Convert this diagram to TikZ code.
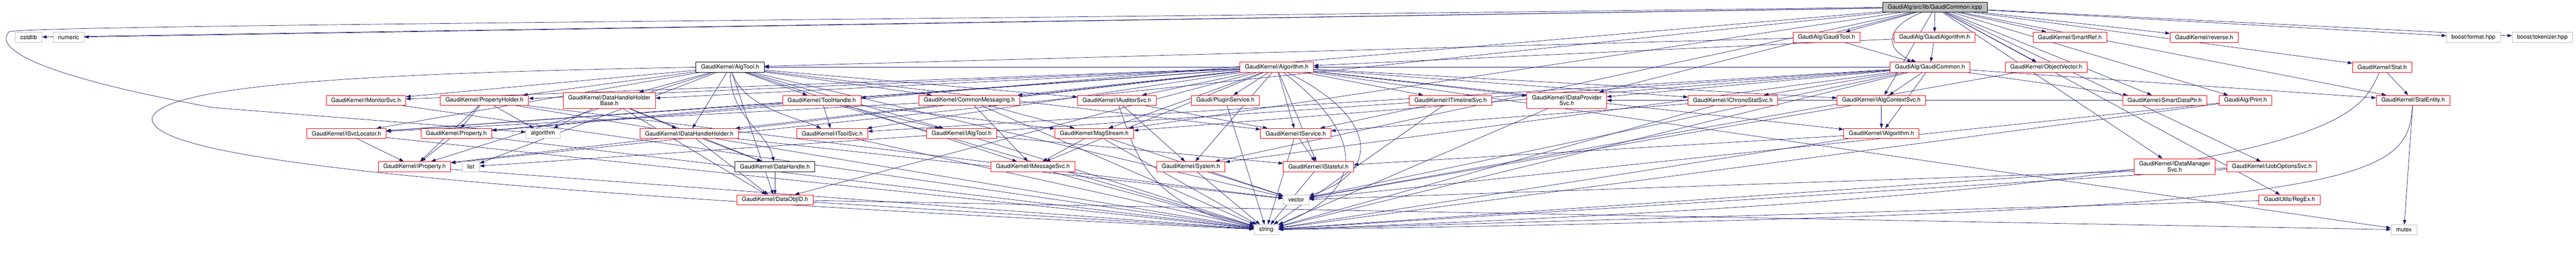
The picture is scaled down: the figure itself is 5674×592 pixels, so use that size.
\documentclass[tikz,border=0pt]{standalone}
\usepackage{fontspec}
\setmainfont{TeX Gyre Heros}
\usetikzlibrary{arrows.meta,backgrounds}
\definecolor{edgeblue}{HTML}{191970}
\definecolor{sysgrey}{HTML}{BFBFBF}
\tikzset{
  file/.style={draw=red, fill=white, line width=1pt, inner xsep=11pt, inner ysep=0pt,
    minimum height=22pt, align=center, font=\fontsize{12.9}{13}\selectfont},
  twoline/.style={file, minimum height=35pt},
  sysfile/.style={file, draw=sysgrey},
  docfile/.style={file, draw=black},
  rootfile/.style={file, draw=black, fill=sysgrey},
  dep/.style={draw=edgeblue, line width=0.8pt, -{Triangle[length=10pt,width=7pt]}}
}

\begin{document}
\begin{tikzpicture}[x=1pt, y=-1pt]
\useasboundingbox (0,0) rectangle (5674,592);

% top
\node[rootfile] (root) at (4262,16){GaudiAlg/src/lib/GaudiCommon.icpp};

% row 1
\node[sysfile] (cstdlib) at (63,82){cstdlib};
\node[sysfile] (numeric) at (151,82){numeric};
\node[file] (gtool) at (4023,82){GaudiAlg/GaudiTool.h};
\node[file] (galg) at (4261,82){GaudiAlg/GaudiAlgorithm.h};
\node[file] (smartref) at (4559,82){GaudiKernel/SmartRef.h};
\node[file] (reverse) at (4855,82){GaudiKernel/reverse.h};
\node[sysfile] (bformat) at (5448,82){boost/format.hpp};
\node[sysfile] (btok) at (5600,82){boost/tokenizer.hpp};

% row 2
\node[docfile] (algtool) at (1608,148){GaudiKernel/AlgTool.h};
\node[file] (alg) at (2812,148){GaudiKernel/Algorithm.h};
\node[file] (gcommon) at (4251,148){GaudiAlg/GaudiCommon.h};
\node[file] (objvec) at (4507,148){GaudiKernel/ObjectVector.h};
\node[file] (stat) at (5247,148){GaudiKernel/Stat.h};

% row 3
\node[file] (imon) at (806,221){GaudiKernel/IMonitorSvc.h};
\node[file] (propholder) at (1067,221){GaudiKernel/PropertyHolder.h};
\node[twoline] (dhhbase) at (1342,221){GaudiKernel/DataHandleHolder\\Base.h};
\node[file] (toolhandle) at (1810,221){GaudiKernel/ToolHandle.h};
\node[file] (commsg) at (2135,221){GaudiKernel/CommonMessaging.h};
\node[file] (iaud) at (2460,221){GaudiKernel/IAuditorSvc.h};
\node[file] (plugin) at (2699,221){Gaudi/PluginService.h};
\node[file] (itimeline) at (3195,221){GaudiKernel/ITimelineSvc.h};
\node[twoline] (idataprov) at (3451,221){GaudiKernel/IDataProvider\\Svc.h};
\node[file] (ichrono) at (3817,221){GaudiKernel/IChronoStatSvc.h};
\node[file] (ialgctx) at (4144,221){GaudiKernel/IAlgContextSvc.h};
\node[file] (smartptr) at (4768,221){GaudiKernel/SmartDataPtr.h};
\node[file] (print) at (4946,221){GaudiAlg/Print.h};
\node[file] (statent) at (5315,221){GaudiKernel/StatEntity.h};

% row 4
\node[file] (isvcloc) at (763,294){GaudiKernel/ISvcLocator.h};
\node[file] (property) at (1005,294){GaudiKernel/Property.h};
\node[sysfile] (stdalgo) at (1196,294){algorithm};
\node[file] (idhh) at (1518,294){GaudiKernel/IDataHandleHolder.h};
\node[file] (itoolsvc) at (1833,294){GaudiKernel/IToolSvc.h};
\node[file] (ialgtool) at (2118,294){GaudiKernel/IAlgTool.h};
\node[file] (msgstream) at (2410,294){GaudiKernel/MsgStream.h};
\node[file] (iservice) at (2854,294){GaudiKernel/IService.h};
\node[file] (ialgorithm) at (4144,294){GaudiKernel/IAlgorithm.h};

% row 5
\node[file] (iprop) at (913,367){GaudiKernel/IProperty.h};
\node[sysfile] (list) at (1037,367){list};
\node[docfile] (dhandle) at (1707,367){GaudiKernel/DataHandle.h};
\node[file] (imsgsvc) at (2275,367){GaudiKernel/IMessageSvc.h};
\node[file] (system) at (2623,367){GaudiKernel/System.h};
\node[file] (istateful) at (2904,367){GaudiKernel/IStateful.h};
\node[twoline] (idatamgr) at (4790,367){GaudiKernel/IDataManager\\Svc.h};
\node[file] (ijobopt) at (5004,367){GaudiKernel/IJobOptionsSvc.h};

% row 6
\node[file] (objid) at (1707,440){GaudiKernel/DataObjID.h};
\node[sysfile] (vector) at (2855,440){vector};
\node[file] (regex) at (5043,440){GaudiUtils/RegEx.h};

% row 7
\node[sysfile] (string) at (2789,506){string};
\node[sysfile] (mutex) at (5295,506){mutex};

\begin{scope}[on background layer]
% from the source file
\draw[dep] (root) -- (cstdlib);
\draw[dep] (root) -- (numeric);
\draw[dep] (root.west) .. controls (2000,45) and (60,55) .. (20,70)
  .. controls (0,90) and (-5,150) .. (470,237) -- (stdalgo);
\draw[dep] (root) -- (gtool);
\draw[dep] (root) -- (galg);
\draw[dep] (root) .. controls (4150,60) and (4150,110) .. (gcommon);
\draw[dep] (root) -- (smartref);
\draw[dep] (root) -- (objvec);
\draw[dep] (root) -- (reverse);
\draw[dep] (root) -- (bformat);
\draw[dep] (root) -- (btok);
\draw[dep] (root) -- (stat);
\draw[dep] (root) -- (statent);
\draw[dep] (root) -- (smartptr);
\draw[dep] (root) -- (print);
\draw[dep] (root) -- (idatamgr);
\draw[dep] (root) -- (ijobopt);
\draw[dep] (root) -- (regex);
\draw[dep] (root) -- (iprop);
\draw[dep] (root) -- (property);
\draw[dep] (root) -- (idataprov);
\draw[dep] (root) -- (ialgctx);
\draw[dep] (root) -- (system);
\draw[dep] (root) -- (msgstream);

% GaudiAlg headers
\draw[dep] (gtool) -- (gcommon);
\draw[dep] (gtool) -- (algtool);
\draw[dep] (galg) -- (gcommon);
\draw[dep] (galg) -- (alg);
\draw[dep] (gcommon) -- (algtool);
\draw[dep] (gcommon) -- (alg);
\draw[dep] (gcommon) -- (ialgctx);
\draw[dep] (gcommon) -- (ichrono);
\draw[dep] (gcommon) -- (idataprov);
\draw[dep] (gcommon) -- (itoolsvc);
\draw[dep] (gcommon) -- (ialgorithm);
\draw[dep] (gcommon) -- (smartptr);
\draw[dep] (gcommon) -- (statent);
\draw[dep] (gcommon) -- (msgstream);
\draw[dep] (gcommon) -- (system);
\draw[dep] (gcommon) -- (string);
\draw[dep] (gcommon) -- (vector);
\draw[dep] (gcommon) -- (list);
\draw[dep] (objvec) -- (vector);
\draw[dep] (print) -- (string);
\draw[dep] (print) -- (vector);

% Algorithm.h
\draw[dep] (alg) -- (ialgorithm);
\draw[dep] (alg) -- (imsgsvc);
\draw[dep] (alg) -- (iprop);
\draw[dep] (alg) -- (iservice);
\draw[dep] (alg) -- (istateful);
\draw[dep] (alg) -- (isvcloc);
\draw[dep] (alg) -- (propholder);
\draw[dep] (alg) -- (system);
\draw[dep] (alg) -- (toolhandle);
\draw[dep] (alg) -- (plugin);
\draw[dep] (alg) -- (commsg);
\draw[dep] (alg) -- (objid);
\draw[dep] (alg) -- (ialgctx);
\draw[dep] (alg) -- (iaud);
\draw[dep] (alg) -- (ichrono);
\draw[dep] (alg) -- (idataprov);
\draw[dep] (alg) -- (imon);
\draw[dep] (alg) -- (itimeline);
\draw[dep] (alg) -- (itoolsvc);
\draw[dep] (alg) -- (dhhbase);
\draw[dep] (alg) -- (idhh);
\draw[dep] (alg) -- (msgstream);
\draw[dep] (alg) .. controls (3010,300) and (3010,420) .. (string);
\draw[dep] (alg) .. controls (3040,260) and (3040,380) .. (vector);
\draw[dep] (alg) -- (mutex);

% AlgTool.h
\draw[dep] (algtool) -- (commsg);
\draw[dep] (algtool) -- (ialgtool);
\draw[dep] (algtool) -- (imon);
\draw[dep] (algtool) -- (iprop);
\draw[dep] (algtool) -- (iservice);
\draw[dep] (algtool) -- (isvcloc);
\draw[dep] (algtool) .. controls (1640,240) and (1760,260) .. (itoolsvc);
\draw[dep] (algtool) -- (propholder);
\draw[dep] (algtool) -- (toolhandle);
\draw[dep] (algtool) -- (idhh);
\draw[dep] (algtool) -- (dhhbase);
\draw[dep] (algtool) .. controls (1610,260) and (1690,290) .. (dhandle);
\draw[dep] (algtool) -- (objid);
\draw[dep] (algtool) -- (list);
\draw[dep] (algtool) -- (vector);
\draw[dep] (algtool.west) .. controls (900,160) and (360,180) .. (335,260)
  .. controls (330,330) and (700,410) .. (string);
\draw[dep] (algtool) -- (imsgsvc);
\draw[dep] (algtool) -- (iaud);

% third row headers
\draw[dep] (propholder) -- (property);
\draw[dep] (propholder) -- (iprop);
\draw[dep] (propholder) -- (stdalgo);
\draw[dep] (propholder) -- (string);
\draw[dep] (propholder) -- (vector);
\draw[dep] (dhhbase) -- (idhh);
\draw[dep] (dhhbase) -- (stdalgo);
\draw[dep] (dhhbase) -- (objid);
\draw[dep] (dhhbase) -- (dhandle);
\draw[dep] (toolhandle) -- (itoolsvc);
\draw[dep] (toolhandle) -- (ialgtool);
\draw[dep] (toolhandle) -- (property);
\draw[dep] (toolhandle) -- (isvcloc);
\draw[dep] (toolhandle) -- (msgstream);
\draw[dep] (toolhandle) -- (string);
\draw[dep] (commsg) -- (imsgsvc);
\draw[dep] (commsg) -- (msgstream);
\draw[dep] (commsg) -- (isvcloc);
\draw[dep] (commsg) -- (string);
\draw[dep] (iaud) -- (system);
\draw[dep] (iaud) -- (iservice);
\draw[dep] (iaud) .. controls (2500,330) and (2520,450) .. (string);
\draw[dep] (plugin) -- (string);
\draw[dep] (itimeline) -- (iservice);
\draw[dep] (itimeline) -- (string);
\draw[dep] (idataprov) -- (string);
\draw[dep] (ichrono) -- (iservice);
\draw[dep] (ichrono) -- (string);
\draw[dep] (ialgctx) -- (ialgorithm);
\draw[dep] (ialgctx) -- (vector);
\draw[dep] (smartptr) -- (idataprov);
\draw[dep] (imon) -- (string);
\draw[dep] (stat) -- (statent);
\draw[dep] (stat) .. controls (5190,260) and (5190,420) .. (string);
\draw[dep] (statent) -- (mutex);
\draw[dep] (statent) .. controls (5300,400) and (5240,470) .. (string);

% lower rows
\draw[dep] (isvcloc) -- (iprop);
\draw[dep] (isvcloc) -- (string);
\draw[dep] (property) -- (iprop);
\draw[dep] (property) -- (string);
\draw[dep] (idhh) -- (objid);
\draw[dep] (idhh) -- (dhandle);
\draw[dep] (idhh) -- (vector);
\draw[dep] (itoolsvc) -- (string);
\draw[dep] (ialgtool) -- (istateful);
\draw[dep] (ialgtool) -- (string);
\draw[dep] (msgstream) -- (imsgsvc);
\draw[dep] (msgstream) -- (string);
\draw[dep] (msgstream) -- (vector);
\draw[dep] (iservice) -- (istateful);
\draw[dep] (iservice) -- (string);
\draw[dep] (ialgorithm) -- (istateful);
\draw[dep] (ialgorithm) -- (string);
\draw[dep] (iprop) -- (string);
\draw[dep] (dhandle) -- (objid);
\draw[dep] (imsgsvc) -- (string);
\draw[dep] (system) -- (string);
\draw[dep] (system) -- (vector);
\draw[dep] (istateful) -- (string);
\draw[dep] (idatamgr) -- (string);
\draw[dep] (ijobopt) -- (string);
\draw[dep] (ijobopt) -- (vector);
\draw[dep] (regex) -- (string);
\draw[dep] (objid) -- (string);
\draw[dep] (objid) -- (mutex);
\end{scope}
\end{tikzpicture}
\end{document}
